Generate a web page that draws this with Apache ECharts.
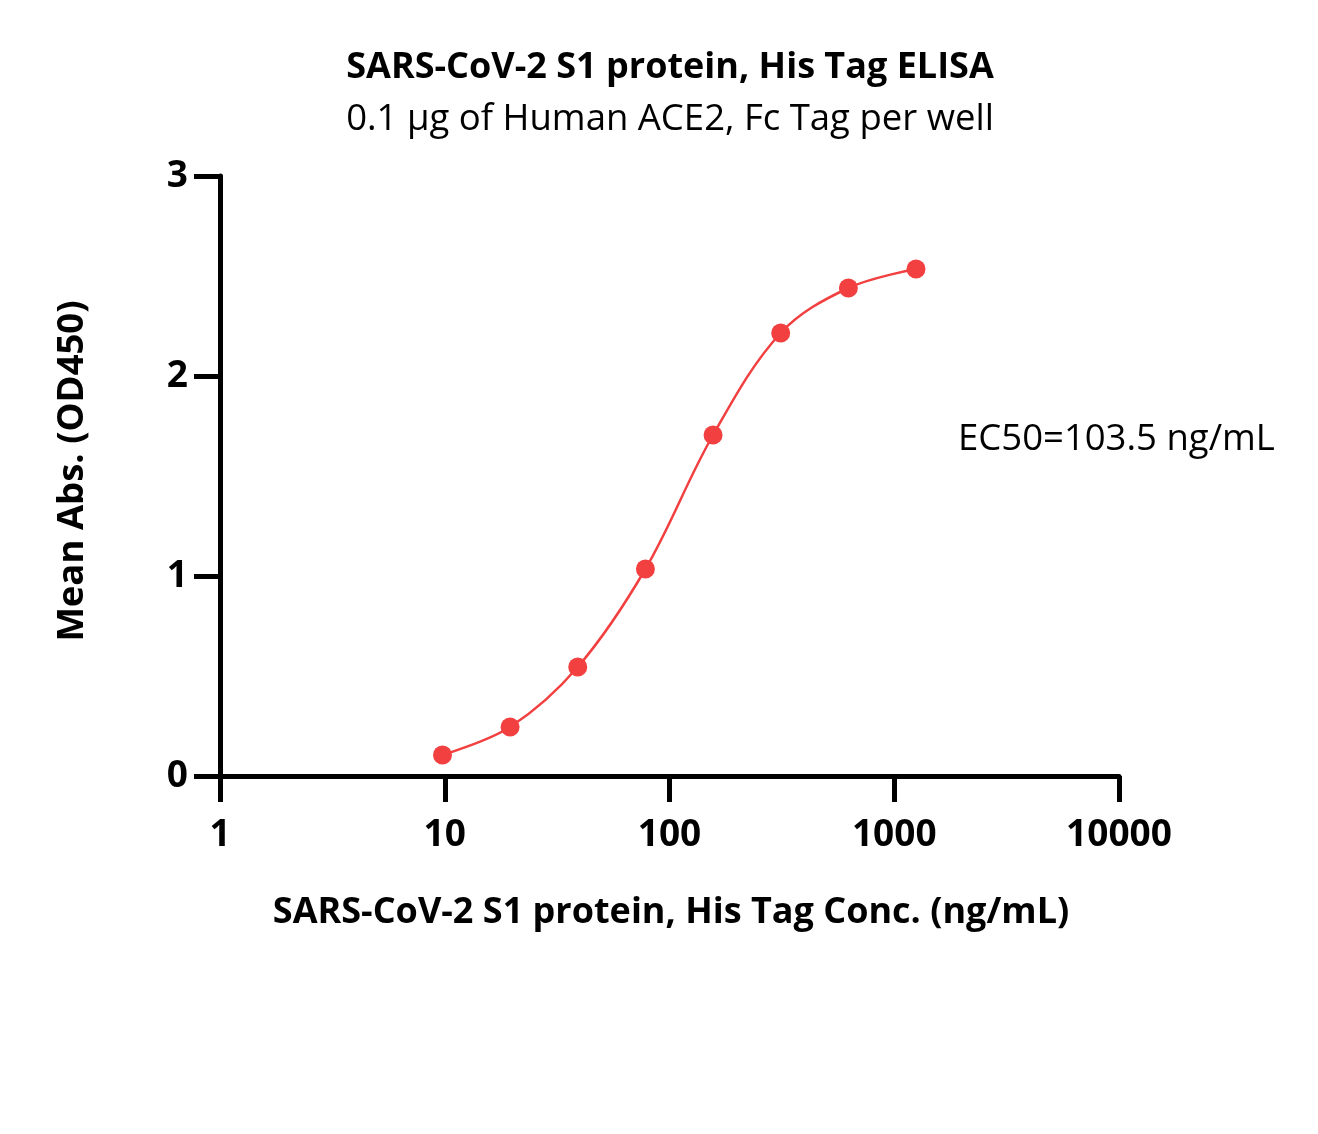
<!DOCTYPE html>
<html><head><meta charset="utf-8">
<script src="https://cdn.jsdelivr.net/npm/echarts@6/dist/echarts.min.js"></script>
<style>html,body{margin:0;padding:0;background:#fff}#c{width:1318px;height:1134px}</style>
</head><body><div id="c"></div>
<script>
const titleText = 'SARS-CoV-2 S1 protein, His Tag ELISA';
const subtitleText = '0.1 \u00b5g of Human ACE2, Fc Tag per well';
const xName = 'SARS-CoV-2 S1 protein, His Tag Conc. (ng/mL)';
const yName = 'Mean Abs. (OD450)';
const ec50Text = 'EC50=103.5 ng/mL';
const concentrations = [9.77, 19.53, 39.06, 78.13, 156.25, 312.5, 625, 1250];
const absorbance = [0.105, 0.245, 0.545, 1.035, 1.705, 2.215, 2.44, 2.535];
const yTicks = [0, 1, 2, 3];

const FONT = '"Open Sans", "Noto Sans", sans-serif';
const RED = '#F23F3F';
const chart = echarts.init(document.getElementById('c'), null, {renderer: 'canvas'});
chart.setOption({
  backgroundColor: '#fff',
  animation: false,
  grid: {left: 220, right: 199, top: 176, bottom: 358, containLabel: false},
  xAxis: {
    type: 'log', logBase: 10, min: 1, max: 10000,
    axisLine: {show: true, lineStyle: {color: '#000', width: 5}},
    axisTick: {show: true, length: 26, lineStyle: {color: '#000', width: 5}},
    minorTick: {show: false},
    splitLine: {show: false},
    axisLabel: {margin: 41, color: '#000', fontSize: 37, fontWeight: 'bold', fontFamily: FONT,
      formatter: v => String(Math.round(v))}
  },
  yAxis: {
    type: 'value', min: yTicks[0], max: yTicks[yTicks.length - 1], interval: 1,
    axisLine: {show: true, lineStyle: {color: '#000', width: 5}},
    axisTick: {show: true, length: 26, lineStyle: {color: '#000', width: 5}},
    splitLine: {show: false},
    axisLabel: {margin: 32, color: '#000', fontSize: 37, fontWeight: 'bold', fontFamily: FONT}
  },
  series: [{
    type: 'line',
    data: concentrations.map((c, i) => [c, absorbance[i]]),
    smooth: 0.35,
    symbol: 'circle', symbolSize: 19,
    itemStyle: {color: RED},
    lineStyle: {color: RED, width: 2.5}
  }],
  graphic: [
    {type: 'text', x: 670, y: 68, style: {text: titleText, font: 'bold 36px ' + FONT, fill: '#000', textAlign: 'center', textVerticalAlign: 'middle'}},
    {type: 'text', x: 670, y: 120, style: {text: subtitleText, font: '36.5px ' + FONT, fill: '#000', textAlign: 'center', textVerticalAlign: 'middle'}},
    {type: 'text', x: 671, y: 913, style: {text: xName, font: 'bold 36px ' + FONT, fill: '#000', textAlign: 'center', textVerticalAlign: 'middle'}},
    {type: 'text', x: 73, y: 471, rotation: Math.PI / 2, style: {text: yName, font: 'bold 36.5px ' + FONT, fill: '#000', textAlign: 'center', textVerticalAlign: 'middle'}},
    {type: 'text', x: 958, y: 440, style: {text: ec50Text, font: '36.5px ' + FONT, fill: '#000', textAlign: 'left', textVerticalAlign: 'middle'}}
  ]
});
</script></body></html>
